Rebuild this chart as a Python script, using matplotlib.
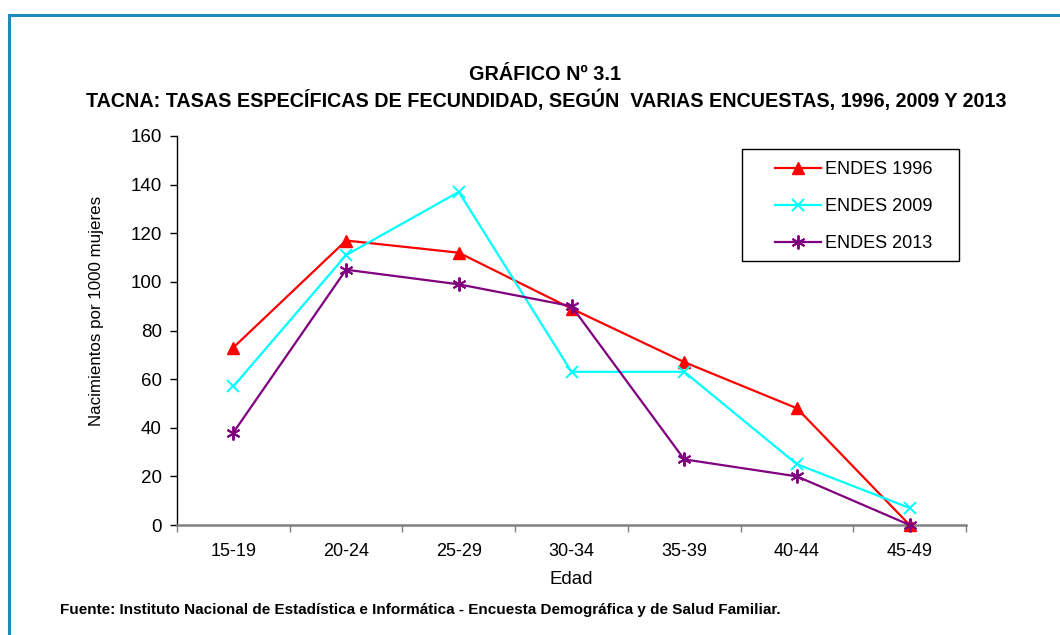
import matplotlib
matplotlib.use("Agg")
import matplotlib.pyplot as plt
from matplotlib.lines import Line2D
from matplotlib.patches import Rectangle
from matplotlib import font_manager

names = {f.name for f in font_manager.fontManager.ttflist}
fam = ['Liberation Sans Narrow'] if 'Liberation Sans Narrow' in names else ['Liberation Sans']
plt.rcParams['font.family'] = fam + ['DejaVu Sans']

categories = ["15-19", "20-24", "25-29", "30-34", "35-39", "40-44", "45-49"]
endes_1996 = [73, 117, 112, 89, 67, 48, 0]
endes_2009 = [57, 111, 137, 63, 63, 25, 7]
endes_2013 = [38, 105, 99, 90, 27, 20, 0]
series_names = ["ENDES 1996", "ENDES 2009", "ENDES 2013"]
title_lines = ["GRÁFICO Nº 3.1",
               "TACNA: TASAS ESPECÍFICAS DE FECUNDIDAD, SEGÚN  VARIAS ENCUESTAS, 1996, 2009 Y 2013"]
y_label = "Nacimientos por 1000 mujeres"
x_label = "Edad"
source = "Fuente: Instituto Nacional de Estadística e Informática - Encuesta Demográfica y de Salud Familiar."

W, H = 1060, 635
fig = plt.figure(figsize=(W / 100, H / 100), dpi=100)
ax = fig.add_axes([177/W, 1-525/H, (966-177)/W, (525-136)/H])

# frame around the chart
fig.add_artist(Line2D([9/W, 9/W], [0, 1-15/H], transform=fig.transFigure,
                      color='#1a8cc0', lw=2.2))
fig.add_artist(Line2D([9/W, 1], [1-15/H, 1-15/H], transform=fig.transFigure,
                      color='#1a8cc0', lw=2.2))

x = list(range(len(categories)))
asterisk = (6, 2, 0)
ax.plot(x, endes_1996, color='#ff0000', lw=1.6, marker='^', ms=9, mfc='#ff0000',
        mec='#ff0000', label=series_names[0], clip_on=False, zorder=3)
ax.plot(x, endes_2009, color='#00ffff', lw=1.6, marker='x', ms=9, mew=1.4,
        label=series_names[1], clip_on=False, zorder=3)
ax.plot(x, endes_2013, color='#800080', lw=1.6, marker=asterisk, ms=10, mew=1.4,
        label=series_names[2], clip_on=False, zorder=4)

ax.set_xlim(-0.5, len(categories) - 0.5)
ax.set_ylim(0, 160)
ax.set_yticks(range(0, 161, 20))
ax.set_xticks(x)
ax.set_xticklabels(categories)
ax.set_xticks([i - 0.5 for i in range(len(categories) + 1)], minor=True)
ax.tick_params(axis='x', which='major', length=0, pad=13, labelsize=13)
ax.tick_params(axis='x', which='minor', length=5, width=1, color='#808080', direction='out')
ax.tick_params(axis='y', length=5, width=1, labelsize=13.5, pad=6)

for s in ['top', 'right']:
    ax.spines[s].set_visible(False)
ax.spines['bottom'].set_color('#808080')
ax.spines['bottom'].set_linewidth(1.8)
ax.spines['left'].set_linewidth(1.0)

ax.set_xlabel(x_label, fontsize=13.4, labelpad=8)
fig.text(97/W, 1-311/H, y_label, rotation=90, ha='center', va='center',
         fontsize=12.2)

fig.text(545/W, 1-75/H, title_lines[0], ha='center', va='center',
         fontsize=14.3, fontweight='bold')
fig.text(546/W, 1-100/H, title_lines[1], ha='center', va='center',
         fontsize=14.2, fontweight='bold')
fig.text(60/W, 1-610/H, source, ha='left', va='center', fontsize=11,
         fontweight='bold')

# legend frame and entries
fig.add_artist(Rectangle((742/W, 1-261/H), (959-742)/W, (261-149)/H,
                         transform=fig.transFigure, fill=True, facecolor='white',
                         edgecolor='black', lw=1.0, zorder=5))
leg = fig.legend(loc='upper left', bbox_to_anchor=(775/W, 1-161/H),
                 frameon=False, fontsize=13, handlelength=2.55, handletextpad=0.2,
                 labelspacing=1.12, borderpad=0, borderaxespad=0)
leg.set_zorder(6)

fig.savefig("out.png", dpi=100)
